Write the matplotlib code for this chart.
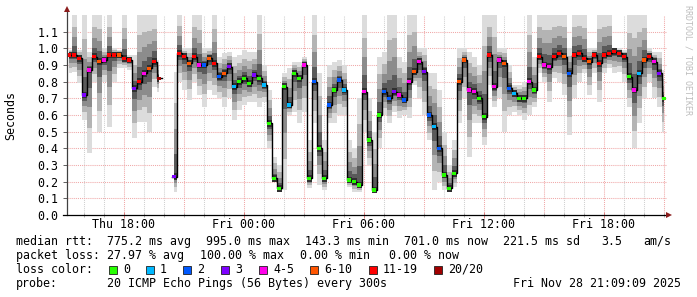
import numpy as np
import matplotlib
matplotlib.use('Agg')
import matplotlib.pyplot as plt
from matplotlib.patches import Rectangle
from matplotlib.lines import Line2D

plt.rcParams['font.family'] = ['DejaVu Sans Mono']
plt.rcParams['font.size'] = 8.4

W, H = 697, 297
nan = np.nan

# time in hours since Thu 00:00, 15 minute samples
t_start = 15.25
t_step = 0.25

# median rtt (s) per sample
median = [0.96, 0.96, 0.94, 0.72, 0.87, 0.95, 0.92, 0.93, 0.96, 0.96, 0.96, 0.94,
          0.93, 0.76, 0.80, 0.85, 0.88, 0.92, 0.82, nan, nan, 0.23, 0.97, 0.95,
          0.91, 0.95, 0.90, 0.90, 0.94, 0.91, 0.83, 0.85, 0.89, 0.77, 0.80, 0.82,
          0.79, 0.84, 0.82, 0.78, 0.55, 0.22, 0.16, 0.77, 0.66, 0.85, 0.82, 0.90,
          0.22, 0.80, 0.40, 0.22, 0.66, 0.75, 0.81, 0.75, 0.21, 0.20, 0.18, 0.74,
          0.45, 0.15, 0.60, 0.74, 0.70, 0.74, 0.72, 0.69, 0.80, 0.86, 0.92, 0.86,
          0.60, 0.53, 0.40, 0.24, 0.16, 0.25, 0.80, 0.93, 0.75, 0.74, 0.70, 0.59,
          0.96, 0.77, 0.93, 0.91, 0.76, 0.73, 0.70, 0.70, 0.80, 0.75, 0.95, 0.90,
          0.89, 0.95, 0.97, 0.95, 0.85, 0.96, 0.97, 0.94, 0.92, 0.96, 0.91, 0.96,
          0.97, 0.98, 0.97, 0.95, 0.83, 0.75, 0.85, 0.93, 0.95, 0.92, 0.85, 0.70]

# smoke extent (lowest / highest ping) per sample
smoke_lo = [0.85, 0.86, 0.79, 0.57, 0.37, 0.80, 0.50, 0.80, 0.53, 0.80, 0.88, 0.88,
            0.87, 0.46, 0.56, 0.56, 0.50, 0.77, 0.74, nan, nan, 0.14, 0.80, 0.75,
            0.69, 0.80, 0.72, 0.65, 0.75, 0.72, 0.70, 0.65, 0.70, 0.57, 0.63, 0.66,
            0.68, 0.68, 0.65, 0.68, 0.40, 0.20, 0.14, 0.15, 0.60, 0.62, 0.55, 0.62,
            0.16, 0.55, 0.18, 0.15, 0.55, 0.55, 0.60, 0.60, 0.17, 0.14, 0.14, 0.50,
            0.30, 0.13, 0.40, 0.60, 0.55, 0.62, 0.58, 0.60, 0.58, 0.78, 0.70, 0.60,
            0.45, 0.15, 0.20, 0.15, 0.14, 0.17, 0.55, 0.70, 0.35, 0.55, 0.55, 0.42,
            0.78, 0.65, 0.70, 0.50, 0.60, 0.62, 0.60, 0.57, 0.60, 0.65, 0.85, 0.80,
            0.68, 0.82, 0.80, 0.72, 0.48, 0.70, 0.80, 0.85, 0.72, 0.85, 0.68, 0.85,
            0.88, 0.85, 0.86, 0.80, 0.65, 0.40, 0.55, 0.70, 0.80, 0.70, 0.65, 0.50]
smoke_hi = [0.99, 1.20, 0.99, 1.20, 0.98, 1.20, 1.20, 1.00, 1.20, 1.00, 0.99, 1.20,
            0.96, 0.96, 1.20, 1.20, 1.20, 1.20, 0.93, nan, nan, 0.86, 1.20, 1.00,
            1.00, 1.20, 1.20, 1.00, 1.00, 1.20, 0.95, 0.97, 0.98, 0.95, 0.96, 0.99,
            0.98, 0.98, 1.20, 0.90, 0.75, 0.35, 0.30, 0.85, 0.88, 0.92, 0.92, 0.95,
            0.45, 1.20, 0.85, 0.45, 0.90, 0.92, 0.93, 0.90, 0.45, 0.40, 0.70, 1.20,
            0.70, 0.50, 0.95, 0.98, 1.20, 1.20, 0.95, 0.92, 1.20, 1.20, 1.00, 1.00,
            0.85, 0.85, 0.75, 0.50, 0.30, 0.45, 1.00, 1.00, 0.98, 0.95, 0.90, 1.20,
            1.20, 1.20, 1.00, 1.00, 0.90, 0.78, 0.78, 0.80, 1.20, 0.95, 1.20, 1.20,
            1.20, 1.20, 1.20, 1.20, 1.00, 1.20, 1.20, 1.20, 1.00, 1.00, 1.20, 1.20,
            1.20, 1.00, 1.00, 0.99, 1.20, 1.20, 1.20, 1.20, 1.00, 0.98, 0.98, 0.87]

# loss class per sample (index into loss_labels, -1 = no data)
loss = [6, 6, 6, 3, 4, 6, 5, 4, 6, 6, 5, 6, 6, 3, 6, 4, 5, 6, 7, -1, -1, 3, 6, 6,
        5, 6, 4, 2, 5, 6, 2, 5, 3, 1, 0, 0, 0, 3, 0, 1, 0, 0, 0, 0, 1, 0, 0, 4,
        0, 2, 0, 0, 2, 0, 2, 1, 0, 0, 0, 4, 0, 0, 0, 2, 2, 3, 4, 2, 4, 5, 4, 3,
        2, 1, 2, 0, 0, 0, 5, 5, 4, 4, 0, 0, 6, 4, 4, 5, 2, 1, 0, 0, 4, 0, 6, 4,
        4, 6, 6, 5, 2, 6, 6, 6, 5, 6, 6, 6, 6, 6, 6, 6, 0, 4, 1, 5, 6, 4, 3, 0]

loss_labels = ['0', '1', '2', '3', '4-5', '6-10', '11-19', '20/20']
loss_colors = ['#26ff00', '#00b8ff', '#0059ff', '#7e00ff', '#ff00ea',
               '#ff5500', '#ff0000', '#a10000']

tick_pos = [18, 24, 30, 36, 42]
tick_labels = ['Thu 18:00', 'Fri 00:00', 'Fri 06:00', 'Fri 12:00', 'Fri 18:00']

median = np.array(median)
lo = np.array(smoke_lo)
hi = np.array(smoke_hi)
t = t_start + t_step * np.arange(len(median))
ok = ~np.isnan(median)

def fx(x):
    return x / W

def fy(y):
    return 1 - y / H

fig = plt.figure(figsize=(W / 100, H / 100), dpi=100)
fig.patch.set_facecolor('white')
ax = fig.add_axes([fx(67), fy(215), fx(600), 200 / H])
ax.set_xlim(15.15, 45.15)
ax.set_ylim(0, 1.2)

# grid
dots = (0, (1, 1))
for h in range(16, 46):
    col = '#f0a8a8' if h % 3 == 0 else '#d0d0d0'
    ax.axvline(h, color=col, lw=0.75, ls=dots, zorder=0)
for v in np.arange(0.1, 1.15, 0.1):
    ax.axhline(v, color='#f0a8a8', lw=0.75, ls=dots, zorder=0)

# smoke
layers = [(1.0, '#dcdcdc'), (0.7, '#b4b4b4'), (0.45, '#8c8c8c'), (0.22, '#5a5a5a')]
med0 = np.nan_to_num(median)
for f, col in layers:
    y1 = med0 - f * (med0 - np.nan_to_num(lo))
    y2 = med0 + f * (np.nan_to_num(hi) - med0)
    ax.fill_between(t, y1, y2, where=ok, step='mid', color=col, lw=0, zorder=1)
ax.fill_between(t, med0 - 0.02, med0 + 0.02, where=ok, step='mid',
                color='#303030', lw=0, zorder=1)

# median line and loss colours
ax.plot(t, median, drawstyle='steps-mid', color='black', lw=1.0, zorder=3)
cols = [loss_colors[k] if k >= 0 else 'none' for k in loss]
ax.scatter(t[ok], median[ok], c=[c for c, o in zip(cols, ok) if o], marker='s',
           s=6, linewidths=0, zorder=4)

for s in ax.spines.values():
    s.set_visible(False)
ax.set_yticks(np.arange(0, 1.15, 0.1))
ax.set_yticklabels(['%.1f' % v for v in np.arange(0, 1.15, 0.1)])
ax.set_xticks(tick_pos)
ax.set_xticklabels(tick_labels)
ax.set_xticks(np.arange(16, 46, 1), minor=True)
ax.tick_params(axis='y', length=3, width=0.7, color='#606060', pad=3)
ax.tick_params(axis='x', which='major', length=4, width=0.7, color='#e08080',
               direction='inout', pad=0.5)
ax.tick_params(axis='x', which='minor', length=3, width=0.7, color='#b0b0b0',
               direction='inout')

# axis lines with arrows
fig.add_artist(Line2D([fx(67), fx(67)], [fy(215), fy(10)], color='#404040', lw=0.9))
fig.add_artist(Line2D([fx(63), fx(668)], [fy(215), fy(215)], color='black', lw=0.9))
fig.add_artist(Line2D([fx(67)], [fy(9)], marker='^', color='#8b1c1c', ms=4, mew=0))
fig.add_artist(Line2D([fx(669)], [fy(215)], marker='>', color='#8b1c1c', ms=4, mew=0))

fig.text(fx(11), fy(115), 'Seconds', rotation=90, ha='center', va='center')
fig.text(fx(688), fy(5), 'RRDTOOL / TOBI OETIKER', rotation=270, ha='center',
         va='top', fontsize=6, color='#bdbdbd')

# legend
row1 = [(16, 'median rtt:'), (107, '775.2 ms avg'), (206, '995.0 ms max'),
        (305, '143.3 ms min'), (404, '701.0 ms now'), (503, '221.5 ms sd'),
        (601, '3.5'), (643, 'am/s')]
row2 = [(16, 'packet loss:'), (107, '27.97 % avg'), (200, '100.00 % max'),
        (300, '0.00 % min'), (389, '0.00 % now')]
for x, s in row1:
    fig.text(fx(x), fy(241.5), s, va='center')
for x, s in row2:
    fig.text(fx(x), fy(255.5), s, va='center')
fig.text(fx(16), fy(269.5), 'loss color:', va='center')
box_x = [109, 146, 183, 221, 259, 310, 369, 434]
for bx, lab, col in zip(box_x, loss_labels, loss_colors):
    fig.add_artist(Rectangle((fx(bx), fy(274)), 8 / W, 8 / H, facecolor=col,
                             edgecolor='#202020', lw=0.6, transform=fig.transFigure))
    fig.text(fx(bx + 14), fy(269.5), lab, va='center')
fig.text(fx(16), fy(283.5), 'probe:', va='center')
fig.text(fx(107), fy(283.5), '20 ICMP Echo Pings (56 Bytes) every 300s', va='center')
fig.text(fx(681), fy(283.5), 'Fri Nov 28 21:09:09 2025', va='center', ha='right')

fig.savefig('out.png', dpi=100)
